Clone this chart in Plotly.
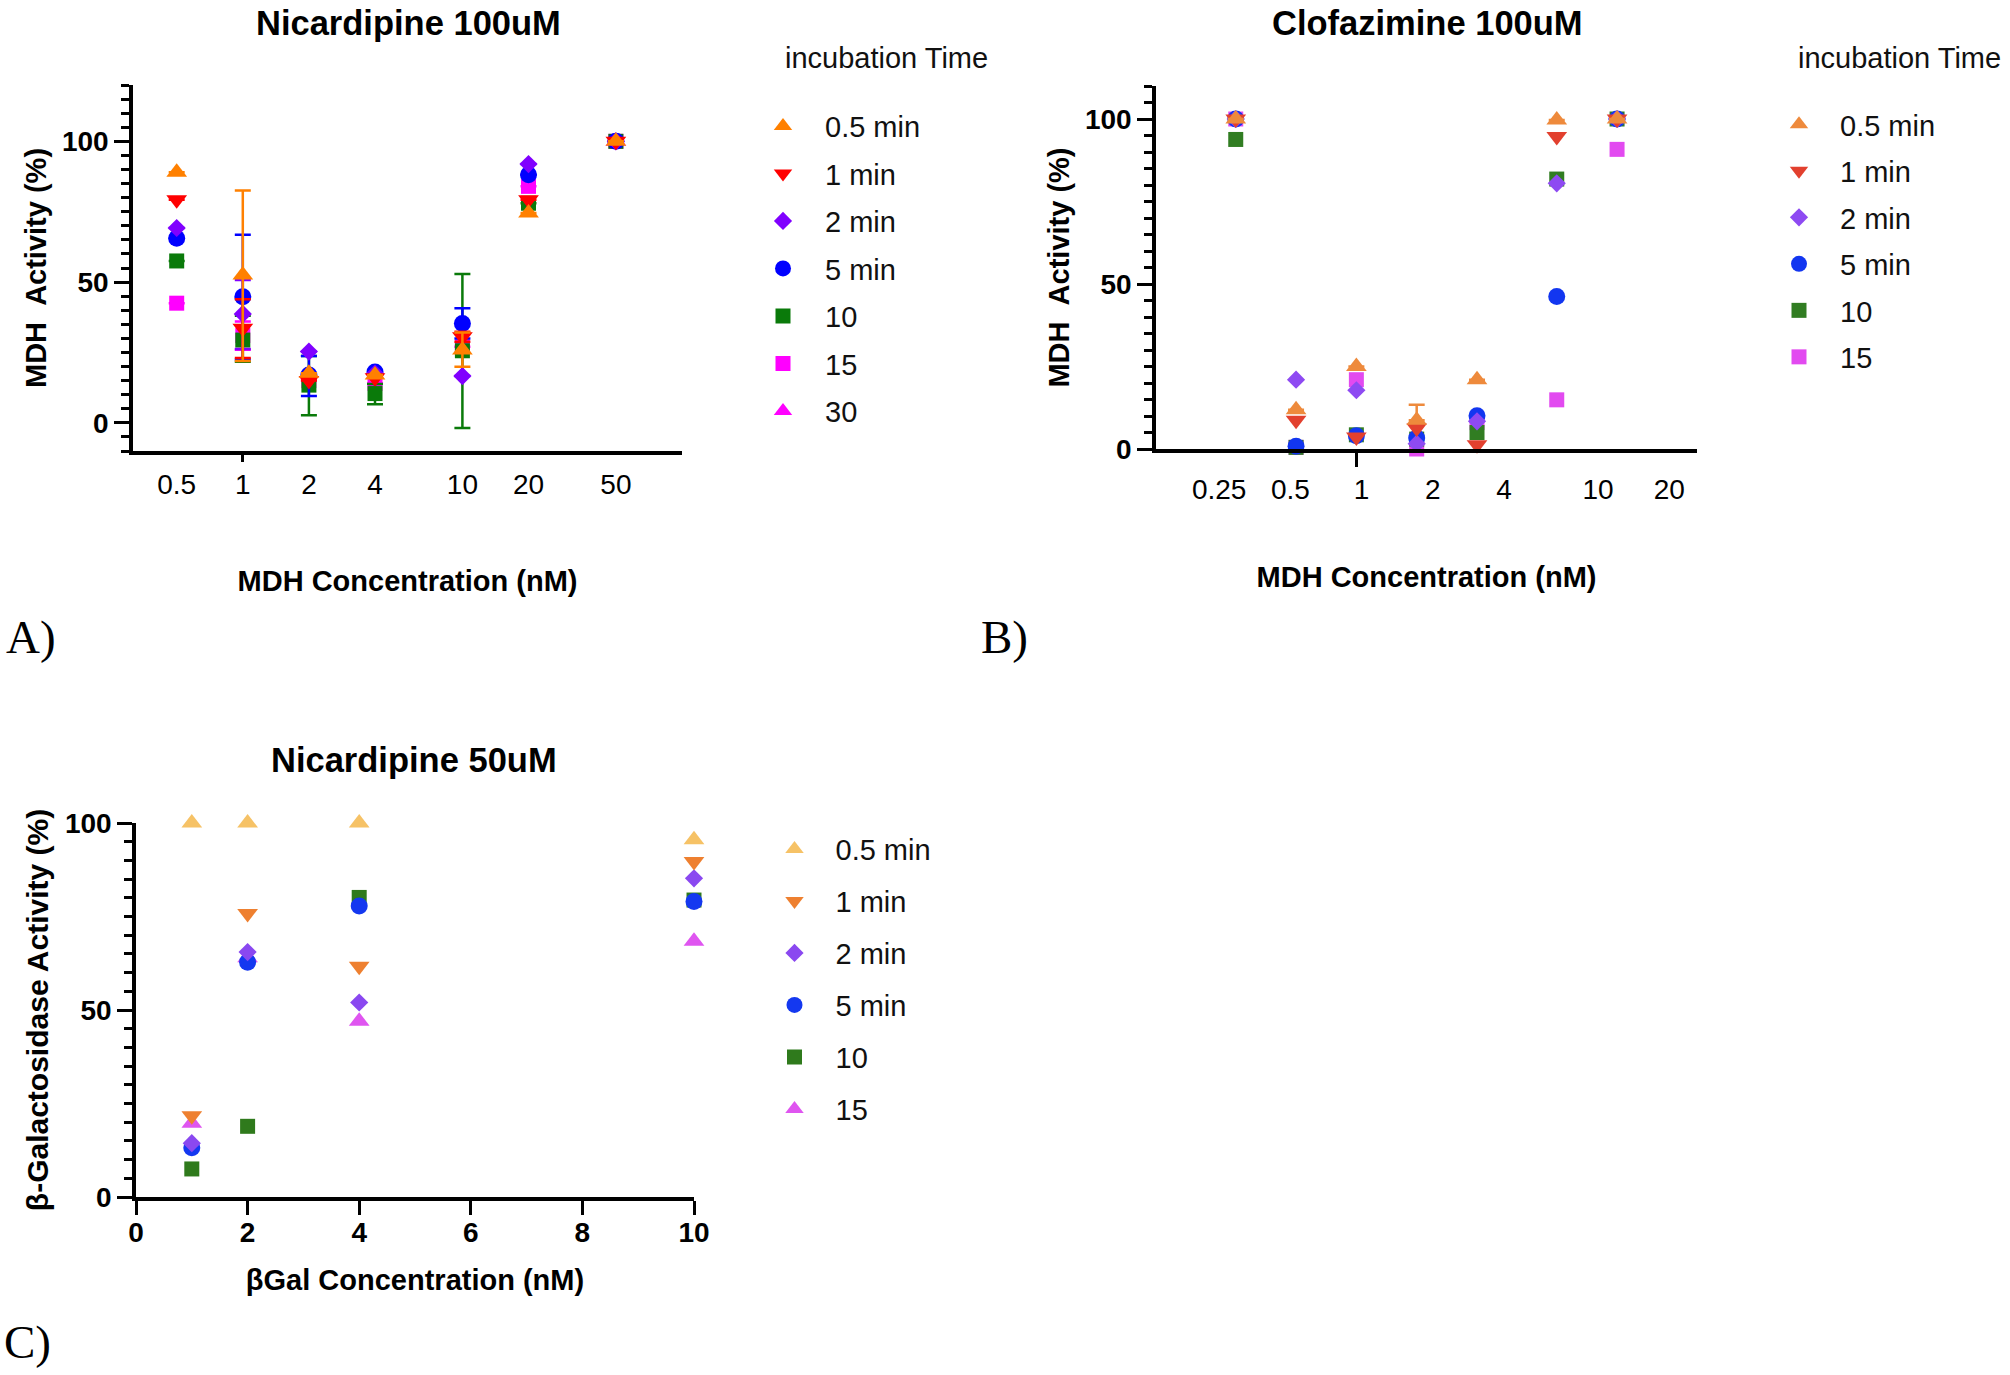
import plotly.graph_objects as go

W, H = 2010, 1375
FONT = "Liberation Sans, Arial, sans-serif"
SERIF = "Liberation Serif, Times New Roman, serif"

# ---------------- Panel A : Nicardipine 100uM (MDH) ----------------
A_CONC = [0.5, 1, 2, 4, 10, 20, 50]
A_T05 = [89.0, 52.5, 17.6, 17.0, 25.9, 74.5, 100]
A_T05_EP = [0, 30.0, 0, 0, 6.2, 0, 0]
A_T05_EM = [0, 30.5, 0, 0, 6.0, 0, 0]
A_T1 = [79.2, 33.6, 15.0, 16.0, 30.6, 79.2, 100]
A_T1_EP = [0, 10.3, 0, 0, 1.8, 0, 0]
A_T1_EM = [0, 10.6, 0, 0, 1.8, 0, 0]
A_T2 = [69.2, 38.7, 25.3, 17.5, 16.6, 91.9, 100]
A_T2_EP = [0, 12.0, 0, 0, 0, 0, 0]
A_T2_EM = [0, 12.5, 0, 0, 0, 0, 0]
A_T5 = [65.6, 44.8, 17.0, 18.1, 35.3, 88.1, 100]
A_T5_EP = [0, 22.0, 6.7, 0, 5.4, 0, 0]
A_T5_EM = [0, 22.3, 7.5, 0, 5.3, 0, 0]
A_T10 = [57.5, 29.4, 13.4, 10.4, 25.6, 78.0, 100]
A_T10_EP = [0, 8.6, 10.3, 3.4, 27.3, 0, 0]
A_T10_EM = [0, 7.7, 10.7, 3.8, 27.4, 0, 0]
A_T15 = [42.5, 31.0, 15.0, 14.0, 27.0, 84.0, 100]
A_T15_EP = [0, 5.0, 0, 0, 0, 0, 0]
A_T15_EM = [0, 5.0, 0, 0, 0, 0, 0]
A_T30 = [None, None, None, None, None, None, 100]
A_TICKS = [0.5, 1, 2, 4, 10, 20, 50]
A_TICKTEXT = ["0.5", "1", "2", "4", "10", "20", "50"]

# ---------------- Panel B : Clofazimine 100uM (MDH) ----------------
B_CONC = [0.25, 0.5, 1, 2, 4, 10, 20]
B_T05 = [100, 11.9, 25.0, 8.7, 21.0, 99.7, 100]
B_T05_EP = [0, 0, 0, 4.7, 0, 0, 0]
B_T05_EM = [0, 0, 0, 0, 0, 0, 0]
B_T1 = [100, 8.7, 3.6, 6.4, 1.3, 94.7, 100]
B_T2 = [100, 21.0, 17.8, 1.6, 8.4, 80.5, 100]
B_T5 = [100, 0.8, 4.0, 3.3, 10.1, 46.2, 100]
B_T10 = [93.8, 0.5, 4.3, 3.0, 5.0, 81.8, 100]
B_T15 = [100, 0.5, 21.0, 0.0, 8.0, 14.9, 90.8]
B_TICKS = [0.25, 0.5, 1, 2, 4, 10, 20]
B_TICKTEXT = ["0.25", "0.5", "1", "2", "4", "10", "20"]

# ---------------- Panel C : Nicardipine 50uM (beta-Gal) ----------------
C_CONC = [1, 2, 4, 10]
C_T05 = [100, 100, 100, 95.5]
C_T1 = [21.7, 75.8, 61.7, 89.7]
C_T2 = [14.4, 65.5, 52.0, 85.2]
C_T5 = [13.2, 62.8, 77.8, 79.0]
C_T10 = [7.5, 18.9, 80.1, 79.4]
C_T15 = [19.7, 64.0, 47.0, 68.4]
C_TICKS = [0, 2, 4, 6, 8, 10]

fig = go.Figure()


def add(xs, ys, name, color, symbol, size, xa, ya, leg, rank, ep=None, em=None):
    kw = {}
    if ep is not None:
        kw["error_y"] = dict(type="data", symmetric=False, array=ep,
                             arrayminus=em if em is not None else ep,
                             color=color, thickness=2.5, width=8)
    fig.add_trace(go.Scatter(
        x=xs, y=ys, mode="markers", name=name, legend=leg, legendrank=rank,
        legendgroup=leg + "_" + name, xaxis=xa, yaxis=ya, cliponaxis=False,
        marker=dict(color=color, symbol=symbol, size=size, line=dict(width=0)),
        **kw))


SZ = {"circle": 17, "square": 15, "triangle-up": 18, "triangle-down": 18, "diamond": 14}

# series listed in legend order; drawn last-to-first so the first series sits on top
A_SER = [
    ("0.5 min", A_T05, A_T05_EP, A_T05_EM, "#FF8000", "triangle-up"),
    ("1 min", A_T1, A_T1_EP, A_T1_EM, "#FF0000", "triangle-down"),
    ("2 min", A_T2, A_T2_EP, A_T2_EM, "#8000FF", "diamond"),
    ("5 min", A_T5, A_T5_EP, A_T5_EM, "#0000FF", "circle"),
    ("10", A_T10, A_T10_EP, A_T10_EM, "#0A7A0A", "square"),
    ("15", A_T15, A_T15_EP, A_T15_EM, "#FF00FF", "square"),
    ("30", A_T30, None, None, "#FF00FF", "triangle-up"),
]
for rank, (name, ys, ep, em, col, sym) in reversed(list(enumerate(A_SER))):
    add(A_CONC, ys, name, col, sym, SZ[sym], "x", "y", "legend", rank + 1, ep, em)

B_SER = [
    ("0.5 min", B_T05, B_T05_EP, B_T05_EM, "#EE8A3C", "triangle-up"),
    ("1 min", B_T1, None, None, "#E2402E", "triangle-down"),
    ("2 min", B_T2, None, None, "#8E4AF2", "diamond"),
    ("5 min", B_T5, None, None, "#1236F0", "circle"),
    ("10", B_T10, None, None, "#317D22", "square"),
    ("15", B_T15, None, None, "#E24AF0", "square"),
]
for rank, (name, ys, ep, em, col, sym) in reversed(list(enumerate(B_SER))):
    add(B_CONC, ys, name, col, sym, SZ[sym], "x2", "y2", "legend2", rank + 1, ep, em)

C_SER = [
    ("0.5 min", C_T05, "#F6C266", "triangle-up"),
    ("1 min", C_T1, "#EE8030", "triangle-down"),
    ("2 min", C_T2, "#8A48F0", "diamond"),
    ("5 min", C_T5, "#1438F0", "circle"),
    ("10", C_T10, "#2F7A1C", "square"),
    ("15", C_T15, "#DF55F0", "triangle-up"),
]
for rank, (name, ys, col, sym) in reversed(list(enumerate(C_SER))):
    add(C_CONC, ys, name, col, sym, SZ[sym], "x3", "y3", "legend3", rank + 1)

# empty carrier traces so the overlay tick/label axes get drawn
fig.add_trace(go.Scatter(x=A_TICKS, y=[None] * len(A_TICKS), xaxis="x4", yaxis="y",
                         mode="markers", showlegend=False, hoverinfo="skip"))
fig.add_trace(go.Scatter(x=B_TICKS, y=[None] * len(B_TICKS), xaxis="x5", yaxis="y2",
                         mode="markers", showlegend=False, hoverinfo="skip"))


def px_x(a, b):
    return [a / W, b / W]


def px_y(top, bottom):
    return [1 - bottom / H, 1 - top / H]


AX_LINE = dict(showline=True, linecolor="black", linewidth=3.5, showgrid=False,
               zeroline=False, automargin=False, mirror=False)
TICKFONT_BOLD = dict(family=FONT, size=28, color="black", weight="bold")


def yaxis(domain, rng, anchor, title, minor_vals, standoff, tsize):
    return dict(domain=domain, range=rng, anchor=anchor, **AX_LINE,
                tickmode="array", tickvals=[0, 50, 100], ticks="outside",
                ticklen=15, tickwidth=3, tickcolor="black", tickfont=TICKFONT_BOLD,
                minor=dict(tickmode="array", tickvals=minor_vals, ticks="outside",
                           ticklen=8, tickwidth=3, tickcolor="black"),
                title=dict(text=title, standoff=standoff,
                           font=dict(family=FONT, size=tsize, color="black", weight="bold")))


A_DOM_X = px_x(133, 682)
A_DOM_Y = px_y(85, 451)
B_DOM_X = px_x(1156, 1697)
B_DOM_Y = px_y(86, 449)
C_DOM_X = px_x(136, 694)
C_DOM_Y = px_y(823, 1197)

TRANSP = "rgba(0,0,0,0)"
XTITLE = dict(family=FONT, size=29, color="black", weight="bold")

fig.update_layout(
    width=W, height=H, template="none", autosize=False,
    margin=dict(l=0, r=0, t=0, b=0),
    paper_bgcolor="white", plot_bgcolor="white",
    font=dict(family=FONT, color="black"),
    # Panel A
    xaxis=dict(domain=A_DOM_X, anchor="y", type="log", range=[-0.5, 2.0], **AX_LINE,
               tickmode="array", tickvals=A_TICKS, ticktext=A_TICKTEXT,
               ticks="outside", ticklen=6, tickcolor=TRANSP,
               tickfont=dict(family=FONT, size=28, color="black"),
               title=dict(text="MDH Concentration (nM)", font=XTITLE, standoff=72)),
    xaxis4=dict(overlaying="x", anchor="y", type="log", range=[-0.5, 2.0],
                showline=False, showgrid=False, zeroline=False, automargin=False,
                tickmode="array", tickvals=[1], ticks="outside", ticklen=10,
                tickwidth=3, tickcolor="black", showticklabels=False),
    yaxis=yaxis(A_DOM_Y, [-10, 120], "x", "MDH\u00a0\u00a0Activity (%)",
                list(range(-10, 121, 5)), 8, 29),
    # Panel B
    xaxis2=dict(domain=B_DOM_X, anchor="y2", type="log", range=[-1.0, 1.7], **AX_LINE,
                tickmode="array", tickvals=[1], ticks="outside", ticklen=14,
                tickwidth=3, tickcolor="black", showticklabels=False),
    # tick labels of panel B sit on their own (slightly wider) log scale, as in the source figure
    xaxis5=dict(overlaying="x2", anchor="y2", type="log", range=[-0.869, 1.418],
                showline=False, showgrid=False, zeroline=False, automargin=False,
                tickmode="array", tickvals=B_TICKS, ticktext=B_TICKTEXT,
                ticks="outside", ticklen=15, tickcolor=TRANSP,
                tickfont=dict(family=FONT, size=28, color="black"),
                title=dict(text="MDH Concentration (nM)", font=XTITLE, standoff=63)),
    yaxis2=yaxis(B_DOM_Y, [0, 110], "x2", "MDH\u00a0\u00a0Activity (%)",
                 list(range(0, 111, 5)), 8, 29),
    # Panel C
    xaxis3=dict(domain=C_DOM_X, anchor="y3", range=[0, 10], **AX_LINE,
                tickmode="array", tickvals=C_TICKS, ticks="outside",
                ticklen=14, tickwidth=3, tickcolor="black", ticklabelstandoff=-6,
                tickfont=dict(family=FONT, size=28, color="black", weight="bold"),
                title=dict(text="βGal Concentration (nM)", font=XTITLE, standoff=23)),
    yaxis3=yaxis(C_DOM_Y, [0, 100], "x3", "β-Galactosidase Activity (%)",
                 list(range(0, 101, 5)), 8, 30),
)

LEG = dict(xanchor="left", yanchor="top", traceorder="grouped",
           font=dict(family=FONT, size=29, color="#111111"),
           bgcolor=TRANSP, borderwidth=0, orientation="v")
fig.update_layout(
    legend=dict(LEG, x=741 / W, y=1 - 100.6 / H, itemwidth=74, tracegroupgap=6.8),
    legend2=dict(LEG, x=1758 / W, y=1 - 99 / H, itemwidth=72, tracegroupgap=5.8),
    legend3=dict(LEG, x=753.5 / W, y=1 - 823.6 / H, itemwidth=72, tracegroupgap=11.3),
)

ann = []
# legend headings
for xl, yc in [(783, 58), (1796, 58)]:
    ann.append(dict(text="incubation Time", x=xl / W, y=1 - yc / H, xref="paper", yref="paper",
                    xanchor="left", yanchor="middle", showarrow=False,
                    font=dict(family=FONT, size=29, color="#111111")))
# panel titles
for txt, xc, yc in [("Nicardipine 100uM", 408, 23), ("Clofazimine 100uM", 1427, 23),
                    ("Nicardipine 50uM", 414, 760)]:
    ann.append(dict(text=txt, x=xc / W, y=1 - yc / H, xref="paper", yref="paper",
                    xanchor="center", yanchor="middle", showarrow=False,
                    font=dict(family=FONT, size=34.5, color="black", weight="bold")))
# panel letters
for txt, xl, yc in [("A)", 4, 637), ("B)", 979, 637), ("C)", 2, 1342)]:
    ann.append(dict(text=txt, x=xl / W, y=1 - yc / H, xref="paper", yref="paper",
                    xanchor="left", yanchor="middle", showarrow=False,
                    font=dict(family=SERIF, size=47, color="black")))
fig.update_layout(annotations=ann)

fig.write_html("out.html", config={"displayModeBar": False},
               post_script="document.body.style.margin='0px';")
